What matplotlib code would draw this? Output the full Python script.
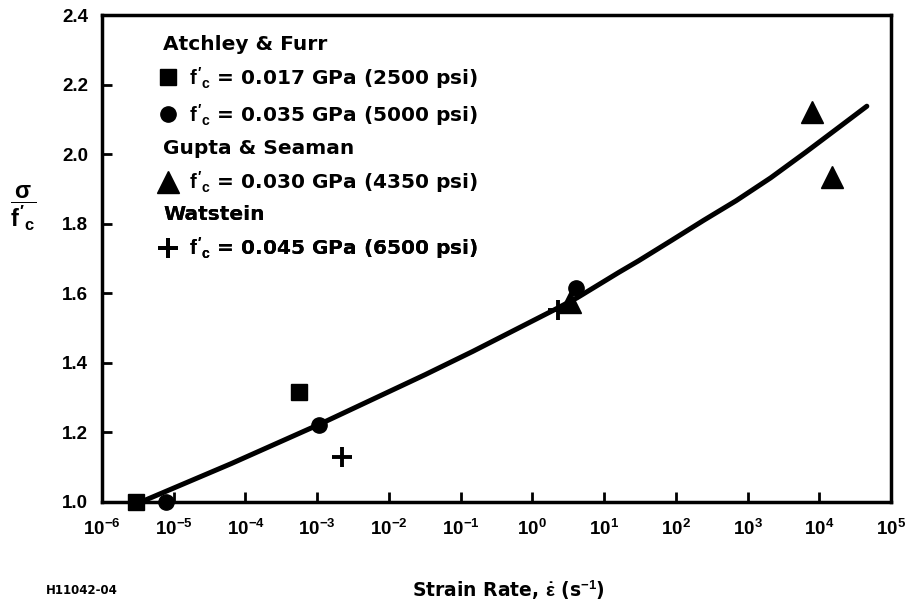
import numpy as np
import matplotlib.pyplot as plt

plt.rcParams['font.family'] = ['Liberation Sans', 'DejaVu Sans']
plt.rcParams['font.weight'] = 'bold'
plt.rcParams['mathtext.fontset'] = 'custom'
for k in ('rm', 'it', 'bf', 'sf'):
    plt.rcParams['mathtext.' + k] = 'Liberation Sans:bold'

# Atchley & Furr, f'c = 0.017 GPa (squares)
af17_rate = [3.0e-6, 5.5e-4]
af17_ratio = [1.00, 1.316]
# Atchley & Furr, f'c = 0.035 GPa (circles)
af35_rate = [7.7e-6, 1.07e-3, 4.0]
af35_ratio = [1.00, 1.221, 1.614]
# Gupta & Seaman (triangles)
gs_rate = [3.3, 7.8e3, 1.5e4]
gs_ratio = [1.576, 2.122, 1.933]
# Watstein (plus)
wat_rate = [2.2e-3, 2.3]
wat_ratio = [1.13, 1.552]

# trend curve
fit_rate = [3.5e-6, 6.3e-5, 1.07e-3, 3.2e-2, 0.148, 2.0, 4.2, 16, 30, 87,
            245, 690, 2.1e3, 6.5e3, 1.95e4, 4.6e4]
fit_ratio = [1.000, 1.110, 1.223, 1.366, 1.433, 1.552, 1.587, 1.660, 1.693,
             1.752, 1.810, 1.866, 1.932, 2.006, 2.080, 2.138]

x_exp = [-6, -5, -4, -3, -2, -1, 0, 1, 2, 3, 4, 5]
y_ticks = [1.0, 1.2, 1.4, 1.6, 1.8, 2.0, 2.2, 2.4]

fontsize = 13.5
wide = 'DejaVu Sans'

fig = plt.figure(figsize=(9.15, 6.04), dpi=100)
ax = fig.add_axes([0.1115, 0.169, 0.8623, 0.806])
ax.set_xscale('log')

ax.plot(fit_rate, fit_ratio, color='black', lw=3.6,
        solid_capstyle='round', solid_joinstyle='round', zorder=2)
sq, = ax.plot(af17_rate, af17_ratio, 's', color='black', ms=11.5,
              clip_on=False, zorder=3)
ci, = ax.plot(af35_rate, af35_ratio, 'o', color='black', ms=11,
              clip_on=False, zorder=3)
tr, = ax.plot(gs_rate, gs_ratio, '^', color='black', ms=16,
              clip_on=False, zorder=3)
pl, = ax.plot(wat_rate, wat_ratio, '+', color='black', ms=14, mew=2.8,
              clip_on=False, zorder=3)

ax.set_xlim(1e-6, 1e5)
ax.set_ylim(1.0, 2.4)
ax.set_xticks([10.0 ** e for e in x_exp])
ax.set_xticklabels([r'$10^{%d}$' % e for e in x_exp])
ax.minorticks_off()
ax.set_yticks(y_ticks)
ax.set_yticklabels(['%.1f' % v for v in y_ticks])

for s in ax.spines.values():
    s.set_linewidth(2.5)
ax.tick_params(direction='in', length=7, width=2, labelsize=fontsize)
ax.tick_params(axis='x', pad=12)
ax.tick_params(axis='y', pad=10)


def group_legend(handles, labels, title, y):
    leg = ax.legend(handles, labels, title=title, loc='upper left',
                    bbox_to_anchor=(0.0773, y), frameon=False,
                    borderpad=0, borderaxespad=0, handlelength=0.5,
                    handletextpad=0.78, labelspacing=0.55, numpoints=1,
                    prop={'family': wide, 'size': 14.5, 'weight': 'bold'},
                    title_fontproperties={'family': wide, 'size': 14.5,
                                          'weight': 'bold'},
                    alignment='left')
    ax.add_artist(leg)


group_legend([sq, ci],
             [r"$f'_c$ = 0.017 GPa (2500 psi)", r"$f'_c$ = 0.035 GPa (5000 psi)"],
             'Atchley & Furr', 0.960)
group_legend([tr], [r"$f'_c$ = 0.030 GPa (4350 psi)"], 'Gupta & Seaman', 0.745)
group_legend([pl], [r"$f'_c$ = 0.045 GPa (6500 psi)"], 'Watstein', 0.610)

fig.text(508 / 915, 1 - 590 / 604, r'Strain Rate, $\dot{\epsilon}$ (s$^{-1}$)',
         ha='center', va='center', fontsize=13.5, family=wide)
fig.text(23 / 915, 1 - 208 / 604, r"$\dfrac{\sigma}{f'_c}$",
         ha='center', va='center', fontsize=17)
fig.text(82 / 915, 1 - 591 / 604, 'H11042-04', ha='center', va='center',
         fontsize=8.5, family=wide)

plt.savefig('out.png', dpi=100)
